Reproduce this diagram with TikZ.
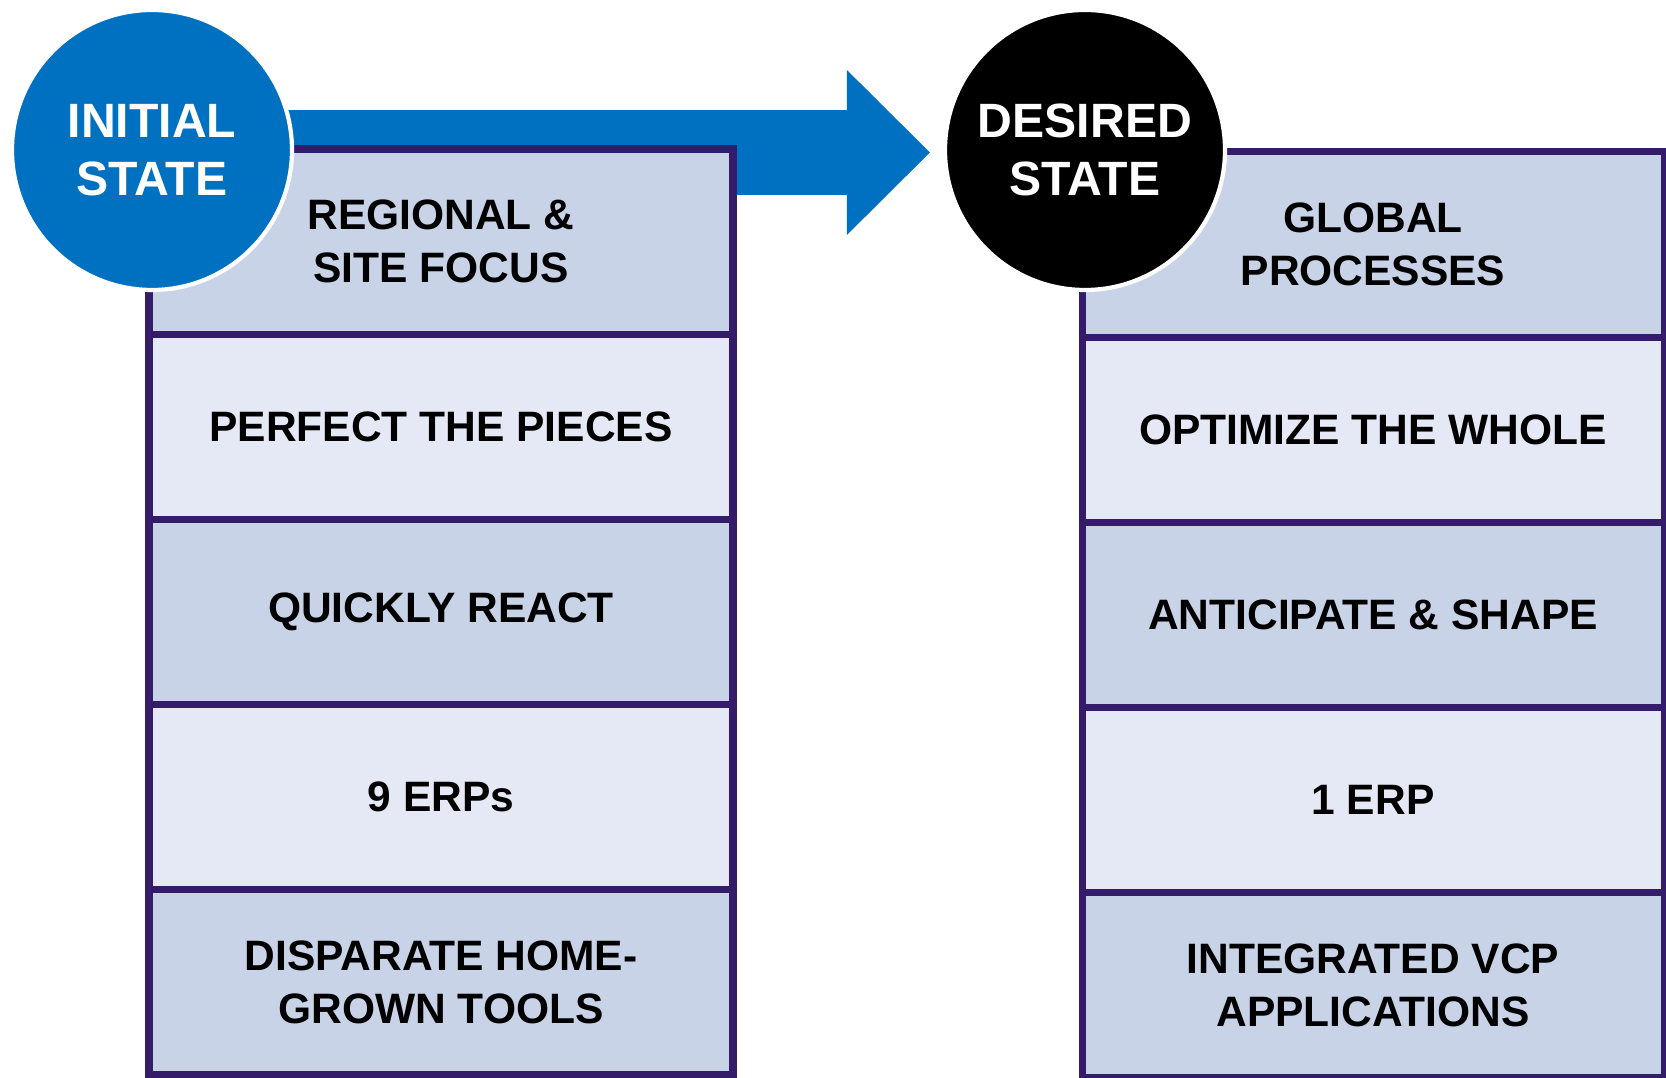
\documentclass[tikz,border=0pt]{standalone}
\usepackage{fontspec}
\setmainfont{Liberation Sans}
\usetikzlibrary{positioning,arrows.meta,backgrounds}

\def\initialcenter{(1.52,-1.50)}
\def\desiredcenter{(10.85,-1.50)}
\definecolor{state blue}{HTML}{0070C0}
\definecolor{row edge}{HTML}{351C6B}
\definecolor{row dark}{HTML}{C9D3E8}
\definecolor{row light}{HTML}{E5E8F5}
\tikzset{
  rowbox/.style={draw=row edge, line width=2pt, minimum height=1.852cm,
    outer sep=0pt, inner sep=0pt, align=center,
    font=\fontsize{12.1}{15}\selectfont\bfseries},
  darkrow/.style={rowbox, fill=row dark},
  lightrow/.style={rowbox, fill=row light},
  badge/.style={circle, minimum size=2.80cm, draw=white, line width=1.2pt,
    text=white, align=center, font=\fontsize{13.7}{16.5}\selectfont\bfseries},
  flow/.style={draw=state blue, line width=8.5mm,
    -{Triangle[length=8.3mm, width=16.5mm, line width=0pt]}}
}

\begin{document}
\begin{tikzpicture}
  \useasboundingbox (0,0) rectangle (16.66,-10.78);

  \begin{scope}[every node/.append style={minimum width=5.84cm}]
    \node[darkrow, anchor=north west] (initial1) at (1.49,-1.49) {REGIONAL \&\\SITE FOCUS};
    \node[lightrow, below=0pt of initial1] (initial2) {PERFECT THE PIECES};
    \node[darkrow, below=0pt of initial2] (initial3) {QUICKLY REACT};
    \node[lightrow, below=0pt of initial3] (initial4) {9 ERPs};
    \node[darkrow, below=0pt of initial4] (initial5) {DISPARATE HOME-\\GROWN TOOLS};
  \end{scope}

  \begin{scope}[every node/.append style={minimum width=5.82cm}]
    \node[darkrow, anchor=north west] (desired1) at (10.82,-1.52) {GLOBAL\\PROCESSES};
    \node[lightrow, below=0pt of desired1] (desired2) {OPTIMIZE THE WHOLE};
    \node[darkrow, below=0pt of desired2] (desired3) {ANTICIPATE \& SHAPE};
    \node[lightrow, below=0pt of desired3] (desired4) {1 ERP};
    \node[darkrow, below=0pt of desired4] (desired5) {INTEGRATED VCP\\APPLICATIONS};
  \end{scope}

  \node[badge, fill=state blue] (initial) at \initialcenter {INITIAL\\STATE};
  \node[badge, fill=black] (desired) at \desiredcenter {DESIRED\\STATE};

  \begin{scope}[on background layer]
    \draw[flow] ([yshift=-0.25mm]initial.center) -- ([yshift=-0.25mm, xshift=-1.3mm]desired.west);
  \end{scope}
\end{tikzpicture}
\end{document}
